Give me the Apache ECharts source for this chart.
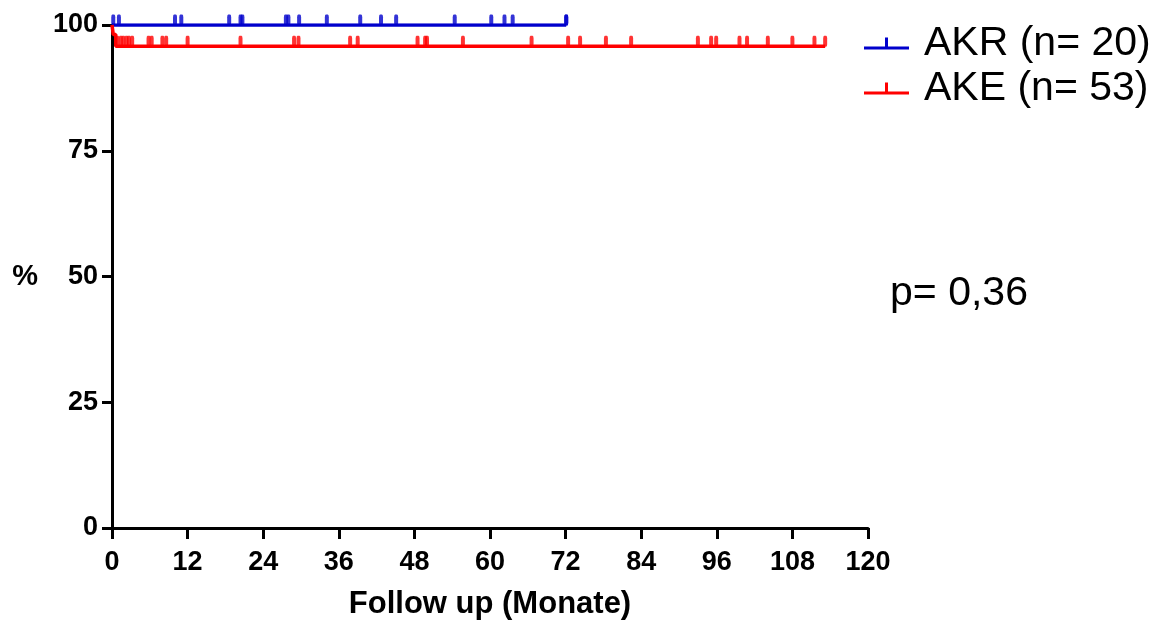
<!DOCTYPE html>
<html>
<head>
<meta charset="utf-8">
<script src="https://cdn.jsdelivr.net/npm/echarts@6/dist/echarts.min.js"></script>
<style>
html,body{margin:0;padding:0;background:#fff;}
#chart{width:1165px;height:622px;}
</style>
</head>
<body>
<div id="chart"></div>
<script>
// ---- data ----
const xTickValues = [0, 12, 24, 36, 48, 60, 72, 84, 96, 108, 120];
const yTickValues = [0, 25, 50, 75, 100];

const akrName = 'AKR (n= 20)';
const akrEventTimes = [];
const akrEventSurvival = [];
const akrEnd = 72.1;
const akrCensor = [0.2, 1.1, 10.0, 11.0, 18.6, 20.4, 20.7, 27.6, 28.0, 29.7, 34.1, 39.4, 42.7, 45.1, 54.4, 60.2, 62.3, 63.6, 72.1, 72.1];

const akeName = 'AKE (n= 53)';
const akeEventTimes = [0.2, 0.6];
const akeEventSurvival = [98.1, 95.8];
const akeEnd = 113.2;
const akeCensor = [0.84, 1.4, 1.8, 2.3, 2.7, 3.2, 5.8, 6.3, 8.0, 8.6, 12.0, 20.4, 28.9, 29.6, 37.8, 39.0, 48.5, 49.7, 50.0, 55.7, 66.6, 72.4, 74.3, 78.4, 82.4, 93.0, 95.1, 95.9, 99.6, 100.8, 104.1, 108.0, 111.5, 113.2];

const pValueText = 'p= 0,36';
const xTitle = 'Follow up (Monate)';
const yTitle = '%';

// ---- build KM step lines ----
function stepLine(times, surv, end) {
  const pts = [[0, 100]];
  let cur = 100;
  for (let i = 0; i < times.length; i++) {
    pts.push([times[i], cur]);
    cur = surv[i];
    pts.push([times[i], cur]);
  }
  pts.push([end, cur]);
  return pts;
}
function survAt(t, times, surv) {
  let s = 100;
  for (let i = 0; i < times.length; i++) if (times[i] <= t) s = surv[i];
  return s;
}
function censorPts(c, times, surv) {
  return c.map(t => [t, survAt(t, times, surv)]);
}

const BLUE = '#0000CC';
const RED = '#FF0000';
const legendIcon = 'path://M0,9 L45,9 L45,12 L0,12 Z M21,0 L24,0 L24,9 L21,9 Z';
const font = '"Liberation Sans", Arial, Helvetica, sans-serif';

const chart = echarts.init(document.getElementById('chart'));
chart.setOption({
  animation: false,
  backgroundColor: '#fff',
  textStyle: { fontFamily: font },
  grid: { left: 112, right: 297, top: 25, bottom: 94, containLabel: false, outerBoundsMode: 'none' },
  legend: {
    orient: 'vertical',
    left: 859,
    top: 18,
    itemWidth: 45,
    itemHeight: 12,
    itemGap: 4,
    selectedMode: false,
    textStyle: { fontSize: 41, lineHeight: 41, color: '#000', fontFamily: font, padding: [0, 0, 0, 10] },
    data: [
      { name: akrName, icon: legendIcon, itemStyle: { color: BLUE } },
      { name: akeName, icon: legendIcon, itemStyle: { color: RED } }
    ]
  },
  xAxis: {
    type: 'value',
    min: 0, max: 120, interval: 12,
    name: xTitle,
    nameLocation: 'middle',
    nameGap: 61,
    nameTextStyle: { fontSize: 31, fontWeight: 'bold', color: '#000', fontFamily: font },
    axisLine: { show: true, onZero: false, lineStyle: { color: '#000', width: 3 } },
    axisTick: { show: true, inside: false, length: 11, lineStyle: { color: '#000', width: 3 } },
    axisLabel: { fontSize: 27, fontWeight: 'bold', color: '#000', margin: 21, fontFamily: font,
      formatter: v => xTickValues.includes(v) ? String(v) : '' },
    splitLine: { show: false }
  },
  yAxis: {
    type: 'value',
    min: 0, max: 100, interval: 25,
    name: yTitle,
    nameLocation: 'middle',
    nameRotate: 0,
    nameGap: 74,
    nameTextStyle: { fontSize: 29, fontWeight: 'bold', color: '#000', fontFamily: font },
    axisLine: { show: true, onZero: false, lineStyle: { color: '#000', width: 3 } },
    axisTick: { show: true, inside: false, length: 10, lineStyle: { color: '#000', width: 3 } },
    axisLabel: { fontSize: 27, fontWeight: 'bold', color: '#000', margin: 14, fontFamily: font,
      formatter: v => yTickValues.includes(v) ? String(v) : '' },
    splitLine: { show: false }
  },
  graphic: [
    { type: 'text', left: 890, top: 273, style: { text: pValueText, fontSize: 41, fill: '#000', fontFamily: font } }
  ],
  series: [
    {
      name: akrName, type: 'line', data: stepLine(akrEventTimes, akrEventSurvival, akrEnd),
      showSymbol: false, symbol: 'none', lineStyle: { color: BLUE, width: 3.5 }, itemStyle: { color: BLUE }, z: 3
    },
    {
      name: 'akr-censor', type: 'scatter', data: censorPts(akrCensor, akrEventTimes, akrEventSurvival),
      symbol: 'roundRect', symbolSize: [4, 11], symbolOffset: [0, -5], itemStyle: { color: BLUE }, z: 3
    },
    {
      name: akeName, type: 'line', data: stepLine(akeEventTimes, akeEventSurvival, akeEnd),
      showSymbol: false, symbol: 'none', lineStyle: { color: RED, width: 3.5 }, itemStyle: { color: RED }, z: 4
    },
    {
      name: 'ake-censor', type: 'scatter', data: censorPts(akeCensor, akeEventTimes, akeEventSurvival),
      symbol: 'roundRect', symbolSize: [4, 11], symbolOffset: [0, -5], itemStyle: { color: RED }, z: 4
    }
  ]
});
</script>
</body>
</html>
